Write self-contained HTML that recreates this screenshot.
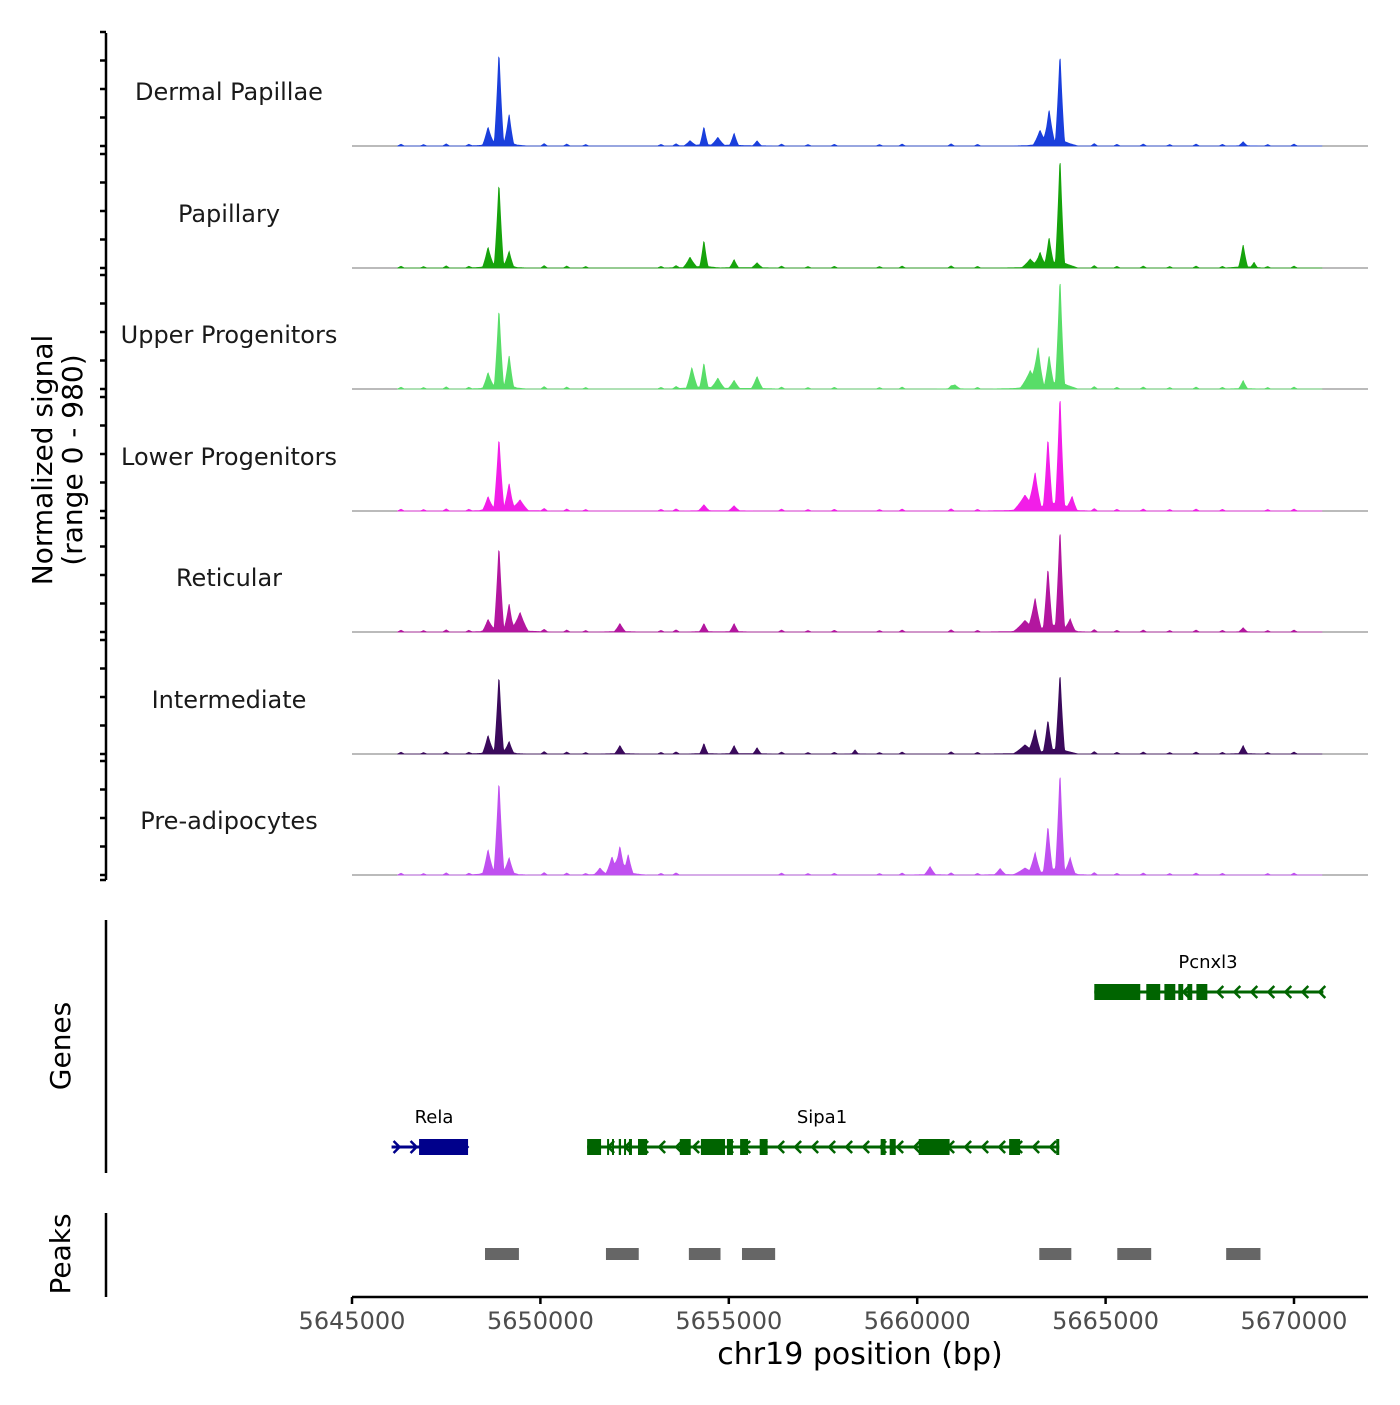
<!DOCTYPE html>
<html><head><meta charset="utf-8"><style>
body{margin:0;background:#fff}
svg text{font-family:"DejaVu Sans","Liberation Sans",sans-serif}
</style></head><body>
<svg id="chart" width="1400" height="1400" viewBox="0 0 1400 1400" xmlns="http://www.w3.org/2000/svg"></svg>
<script>
// ---- data ----
const trackNames = ["Dermal Papillae","Papillary","Upper Progenitors","Lower Progenitors","Reticular","Intermediate","Pre-adipocytes"];
const trackColors = ["#1a3fdc","#16a30c","#58dd68","#f21ee8","#b3169f","#3b0a5c","#c050f0"];
// peaks: [position bp, signal, half-width bp]
const peaksDP = [[5648610,135,140],[5648900,744,120],[5649170,237,120],[5663260,118,180],[5663500,270,140],[5663790,727,120],[5653970,42,160],[5654340,152,110],[5654710,68,180],[5655140,101,120],[5655750,42,120],[5668650,34,120]];
const peaksPap = [[5648610,152,140],[5648900,676,120],[5649170,118,120],[5663000,68,220],[5663260,118,150],[5663500,220,120],[5663790,879,120],[5653970,85,180],[5654340,220,110],[5655140,68,120],[5655750,42,150],[5668650,186,120],[5668940,42,90]];
const peaksUP = [[5648610,118,140],[5648900,634,120],[5649170,254,120],[5663000,135,260],[5663210,304,150],[5663500,237,120],[5663790,879,120],[5654020,169,150],[5654340,203,110],[5654710,85,180],[5655140,68,150],[5655750,101,150],[5668650,68,120],[5661000,34,150]];
const peaksLP = [[5648610,101,140],[5648900,575,130],[5649170,203,130],[5649460,85,220],[5662860,118,300],[5663130,287,160],[5663470,558,120],[5663790,913,120],[5664110,101,130],[5654340,51,150],[5655140,42,150]];
const peaksRet = [[5648610,85,140],[5648900,676,125],[5649170,203,120],[5649460,152,220],[5662860,85,300],[5663130,254,160],[5663470,490,120],[5663790,811,120],[5664060,85,130],[5652110,68,150],[5654340,68,120],[5655140,68,120],[5668650,34,120]];
const peaksInt = [[5648610,135,140],[5648900,625,120],[5649170,85,120],[5662860,68,300],[5663130,186,150],[5663470,254,120],[5663790,642,120],[5652110,68,140],[5654340,85,110],[5655140,68,120],[5655750,51,110],[5658350,34,90],[5668650,68,120]];
const peaksPre = [[5648610,186,140],[5648900,744,130],[5649170,118,130],[5662860,51,300],[5663130,169,150],[5663470,372,120],[5663790,811,120],[5664060,118,130],[5651580,51,150],[5651900,135,160],[5652110,220,150],[5652330,152,130],[5660340,68,150],[5662200,51,150]];
const trackPeaks = [peaksDP,peaksPap,peaksUP,peaksLP,peaksRet,peaksInt,peaksPre];
const noiseBumps = [[5646300,15],[5646900,12],[5647500,18],[5648100,14],[5650100,20],[5650700,16],[5651200,12],[5653200,14],[5653600,18],[5656400,16],[5657100,12],[5657800,14],[5659000,12],[5659600,16],[5660900,18],[5661600,14],[5664700,20],[5665300,14],[5666000,16],[5666700,12],[5667400,16],[5668100,14],[5669300,12],[5670000,16]];
const geneNames = ["Rela","Sipa1","Pcnxl3"];
const geneStart = [5646050,5651240,5664700];
const geneEnd = [5648080,5663770,5670780];
const geneStrand = ["+","-","-"];
const geneRow = [1,1,0];
const relaExons = [[5646780,5648080]];
const sipa1Exons = [[5651240,5651610],[5651770,5651820],[5651900,5651950],[5652080,5652140],[5652220,5652270],[5652350,5652430],[5652590,5652830],[5653700,5653990],[5654260,5654900],[5654950,5655110],[5655300,5655510],[5655820,5656030],[5659030,5659160],[5659270,5659430],[5660040,5660860],[5662440,5662730],[5663690,5663770]];
const pcnxl3Exons = [[5664700,5665920],[5666080,5666450],[5666560,5666850],[5666930,5667060],[5667170,5667300],[5667410,5667700]];
const geneExons = [relaExons,sipa1Exons,pcnxl3Exons];
const peakStart = [5648530,5651740,5653940,5655350,5663240,5665310,5668200];
const peakEnd = [5649430,5652610,5654780,5656230,5664090,5666210,5669110];
const xTicks = [5645000,5650000,5655000,5660000,5665000,5670000];

// ---- scales ----
const X0=5645000, PX0=352, PXPER=942/25000;
const x = bp => PX0 + (bp-X0)*PXPER;
const bases=[146,268,389,511,632,754,875];
const yscale = v => v*116/980;
const NS="http://www.w3.org/2000/svg";
const svg=document.getElementById('chart');
function mk(tag,attrs,parent){const e=document.createElementNS(NS,tag);for(const k in attrs)e.setAttribute(k,attrs[k]);(parent||svg).appendChild(e);return e;}

// y axis
const yaxis=mk('g',{});


mk('line',{x1:106,y1:33,x2:106,y2:880,stroke:'#000','stroke-width':2.5},yaxis);
bases.forEach((b,i)=>{for(let k=0;k<5;k++){const yy=b-k*28.5;mk('line',{x1:100,y1:yy,x2:106,y2:yy,stroke:'#000','stroke-width':2.5},yaxis);}});
mk('line',{x1:100,y1:880,x2:106,y2:880,stroke:'#000','stroke-width':2.5},yaxis);
const yt=mk('text',{transform:'translate(52,460) rotate(-90)','text-anchor':'middle','font-size':28,fill:'#000'});


mk('tspan',{x:0,dy:0},yt).textContent='Normalized signal';
mk('tspan',{x:0,dy:30},yt).textContent='(range 0 - 980)';

// tracks
trackNames.forEach((name,i)=>{
  const g=mk('g',{});
  
  
  const b=bases[i];
  mk('line',{x1:352,y1:b,x2:1368,y2:b,stroke:'#777','stroke-width':1},g);
  const pk=trackPeaks[i];
  let d='M'+x(5646200)+','+b;
  for(let px=x(5646200);px<=x(5670750);px+=0.5){
    const bp=X0+(px-PX0)/PXPER;
    let v=0;
    pk.forEach(p=>{const t=Math.abs(bp-p[0])/p[2];if(t<1)v+=p[1]*(1-t)*(1-t*0.3);if(t<4)v+=p[1]*0.06*(4-t)/4;});
    noiseBumps.forEach(n=>{const t=Math.abs(bp-n[0])/90;if(t<1)v+=n[1]*(1-t);});
    d+=' L'+px.toFixed(1)+','+(b-yscale(v)).toFixed(1);
  }
  d+=' L'+x(5670750)+','+b+' Z';
  const a=mk('path',{d:d,fill:trackColors[i],stroke:trackColors[i],'stroke-width':0.8},g);
  
  
  const t=mk('text',{x:229,y:b-46,'text-anchor':'middle','font-size':24,fill:'#1a1a1a'},g);
  
  
  t.textContent=name;
});

// genes
const gax=mk('line',{x1:106,y1:920,x2:106,y2:1173,stroke:'#000','stroke-width':2.5});


const gt=mk('text',{transform:'translate(70,1046) rotate(-90)','text-anchor':'middle','font-size':28,fill:'#000'});


gt.textContent='Genes';
const rowY=[992,1147];
geneNames.forEach((nm,i)=>{
  const g=mk('g',{});
  
  
  const col=geneStrand[i]=='+'?'#00008b':'#006400';
  const yy=rowY[geneRow[i]];
  const x1=x(geneStart[i]),x2=x(geneEnd[i]);
  mk('line',{x1:x1,y1:yy,x2:x2,y2:yy,stroke:col,'stroke-width':3},g);
  for(let ax=x1+6;ax<x2-2;ax+=17){
    const tip=geneStrand[i]=='+'?ax+2:ax-2, tail=geneStrand[i]=='+'?ax-4:ax+4;
    mk('polyline',{points:`${tail},${yy-6} ${tip},${yy} ${tail},${yy+6}`,fill:'none',stroke:col,'stroke-width':2.5},g);
  }
  geneExons[i].forEach(e=>{mk('rect',{x:x(e[0]),y:yy-8,width:Math.max(2,x(e[1])-x(e[0])),height:16,fill:col},g);});
  const lx=nm=='Pcnxl3'?1208:(nm=='Sipa1'?822:434);
  const t=mk('text',{x:lx,y:yy-24,'text-anchor':'middle','font-size':18,fill:'#000'},g);
  
  
  t.textContent=nm;
});

// peaks
const pax=mk('line',{x1:106,y1:1213,x2:106,y2:1297,stroke:'#000','stroke-width':2.5});


const pt=mk('text',{transform:'translate(70,1254) rotate(-90)','text-anchor':'middle','font-size':28,fill:'#000'});


pt.textContent='Peaks';
peakStart.forEach((s,i)=>{
  const r=mk('rect',{x:x(s),y:1248,width:x(peakEnd[i])-x(s),height:12,fill:'#666'});
  
  
});

// x axis
const xg=mk('g',{});


mk('line',{x1:352,y1:1297,x2:1368,y2:1297,stroke:'#000','stroke-width':2.5},xg);
xTicks.forEach(v=>{
  mk('line',{x1:x(v),y1:1297,x2:x(v),y2:1304,stroke:'#000','stroke-width':2.5},xg);
  const t=mk('text',{x:x(v),y:1329,'text-anchor':'middle','font-size':24,fill:'#4d4d4d'},xg);
  
  
  t.textContent=v;
});
const xt=mk('text',{x:860,y:1364,'text-anchor':'middle','font-size':30,fill:'#000'});


xt.textContent='chr19 position (bp)';
</script>
</body></html>
